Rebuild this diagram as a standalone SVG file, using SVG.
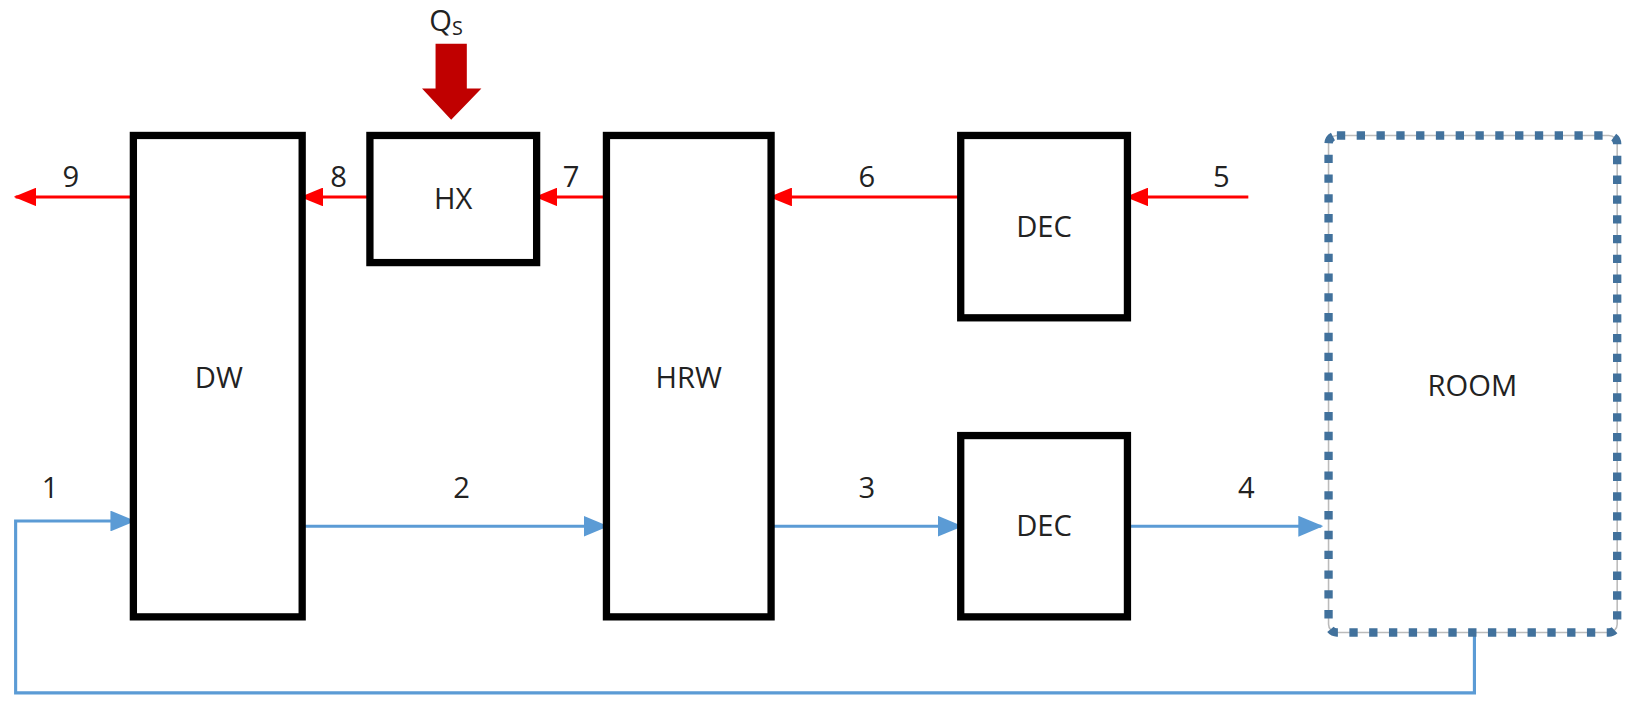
<svg xmlns="http://www.w3.org/2000/svg" width="1634" height="704" viewBox="0 0 1634 704">
<style>
.box{fill:#fff;stroke:#000;stroke-width:7}
.t{font-family:"Open Sans","Liberation Sans",sans-serif;font-size:28px;fill:#222;text-anchor:middle}
.red{stroke:#f00;stroke-width:3;fill:none}
.blue{stroke:#5b9bd5;stroke-width:3;fill:none}
</style>
<defs>
<marker id="ar" markerWidth="22" markerHeight="18" refX="20" refY="9" orient="auto" markerUnits="userSpaceOnUse" viewBox="0 0 22 18"><path d="M0,0L22,9L0,18z" fill="#f00"/></marker>
<marker id="ab" markerWidth="24" markerHeight="20" refX="22" refY="10" orient="auto" markerUnits="userSpaceOnUse" viewBox="0 0 24 20"><path d="M0,0L24,10L0,20z" fill="#5b9bd5"/></marker>
</defs>
<rect width="1634" height="704" fill="#fff"/>
<g transform="scale(1.042)">
<g id="connectors">
<g class="red">
<line x1="128" y1="189" x2="15" y2="189" marker-end="url(#ar)"/>
<line x1="355" y1="189" x2="290" y2="189" marker-end="url(#ar)"/>
<line x1="582" y1="189" x2="515" y2="189" marker-end="url(#ar)"/>
<line x1="922" y1="189" x2="740" y2="189" marker-end="url(#ar)"/>
<line x1="1198" y1="189" x2="1082" y2="189" marker-end="url(#ar)"/>
</g>
<g class="blue">
<polyline points="1415,607 1415,665 15,665 15,500 128,500" marker-end="url(#ab)"/>
<line x1="290" y1="505" x2="582" y2="505" marker-end="url(#ab)"/>
<line x1="740" y1="505" x2="922" y2="505" marker-end="url(#ab)"/>
<line x1="1082" y1="505" x2="1268" y2="505" marker-end="url(#ab)"/>
</g>
<path d="M418,42H448V85H462L433,115L405,85H418Z" fill="#c00000"/>
</g>
<g id="labels">
<text class="t" x="68" y="179">9</text>
<text class="t" x="325" y="179">8</text>
<text class="t" x="548" y="179">7</text>
<text class="t" x="832" y="179">6</text>
<text class="t" x="1172" y="179">5</text>
<text class="t" x="48" y="478">1</text>
<text class="t" x="443" y="478">2</text>
<text class="t" x="832" y="478">3</text>
<text class="t" x="1196" y="478">4</text>
<text class="t" x="428" y="30">Q<tspan font-size="19" dy="4">S</tspan></text>
</g>
<g id="DW"><rect class="box" x="128" y="130" width="162" height="462"/><text class="t" x="210" y="372">DW</text></g>
<g id="HX"><rect class="box" x="355" y="130" width="160" height="122"/><text class="t" x="435" y="201">HX</text></g>
<g id="HRW"><rect class="box" x="582" y="130" width="158" height="462"/><text class="t" x="661" y="372">HRW</text></g>
<g id="DEC1"><rect class="box" x="922" y="130" width="160" height="175"/><text class="t" x="1002" y="227">DEC</text></g>
<g id="DEC2"><rect class="box" x="922" y="418" width="160" height="174"/><text class="t" x="1002" y="514">DEC</text></g>
<g id="ROOM"><rect x="1275" y="130" width="277" height="477" rx="8" fill="#fff" stroke="#bbb" stroke-width="1.5"/><rect x="1275" y="130" width="277" height="477" rx="8" fill="none" stroke="#41719c" stroke-width="8" stroke-dasharray="8,11"/><text class="t" x="1413" y="380">ROOM</text></g>
</g>
</svg>
